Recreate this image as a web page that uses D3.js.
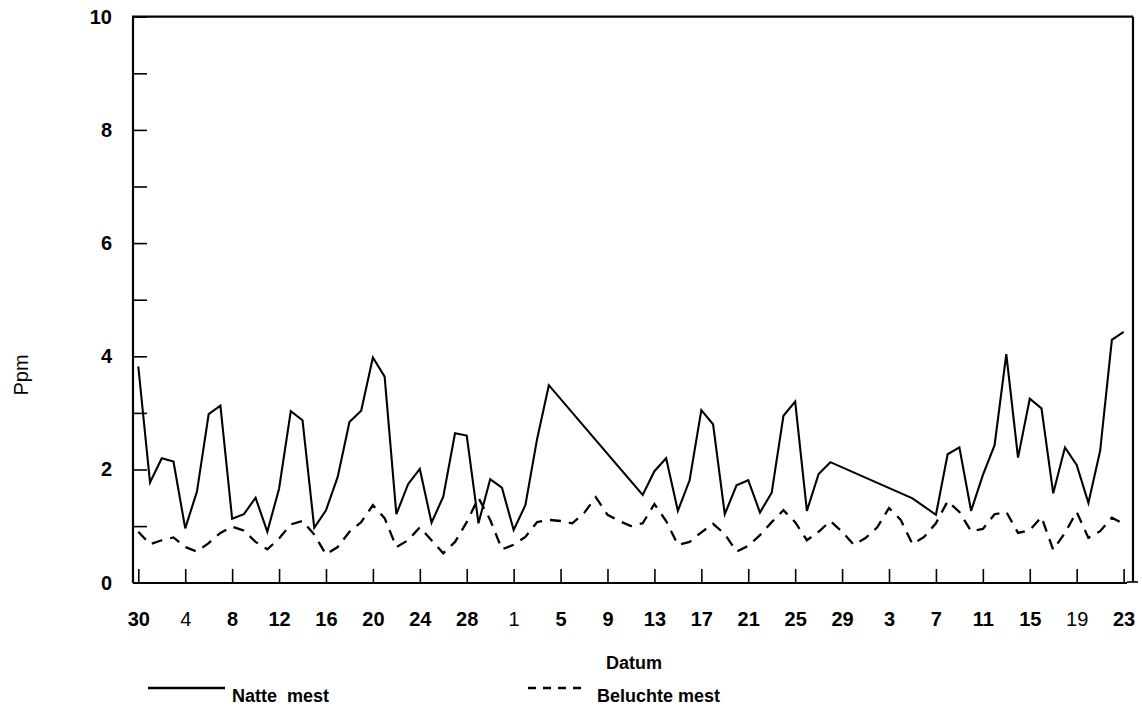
<!DOCTYPE html>
<html>
<head>
<meta charset="utf-8">
<script src="https://cdn.jsdelivr.net/npm/d3@7/dist/d3.min.js"></script>
<style>
  html, body { margin: 0; padding: 0; background: #fff; }
  svg { display: block; font-family: "Liberation Sans", Arial, Helvetica, sans-serif; }
</style>
</head>
<body>
<svg id="chart" width="1142" height="719"></svg>
<script>
// Measurement dates (day-month, 1991 season) and ppm values per manure type
const natteDates = [
  "04-30","05-01","05-02","05-03","05-04","05-05","05-06","05-07","05-08","05-09",
  "05-10","05-11","05-12","05-13","05-14","05-15","05-16","05-17","05-18","05-19",
  "05-20","05-21","05-22","05-23","05-24","05-25","05-26","05-27","05-28","05-29",
  "05-30","05-31","06-01","06-02","06-03","06-04","06-08","06-12","06-13","06-14",
  "06-15","06-16","06-17","06-18","06-19","06-20","06-21","06-22","06-23","06-24",
  "06-25","06-26","06-27","06-28","07-05","07-07","07-08","07-09","07-10","07-11",
  "07-12","07-13","07-14","07-15","07-16","07-17","07-18","07-19","07-20","07-21",
  "07-22","07-23"
];
const natteValues = [
  3.82,1.77,2.20,2.14,0.96,1.61,2.98,3.13,1.13,1.21,
  1.50,0.90,1.66,3.03,2.87,0.97,1.28,1.87,2.84,3.04,
  3.98,3.64,1.21,1.74,2.01,1.06,1.52,2.64,2.60,1.05,
  1.83,1.68,0.93,1.37,2.54,3.49,2.52,1.55,1.97,2.20,
  1.27,1.81,3.05,2.80,1.21,1.72,1.81,1.24,1.59,2.95,
  3.20,1.27,1.92,2.13,1.49,1.20,2.27,2.39,1.27,1.90,
  2.43,4.04,2.21,3.25,3.08,1.58,2.39,2.08,1.41,2.33,
  4.29,4.43
];

const beluchteStart = "04-30";
const beluchteValues = [
  0.90,0.68,0.75,0.80,0.63,0.55,0.70,0.88,0.99,0.92,
  0.72,0.59,0.78,1.03,1.09,0.85,0.50,0.63,0.90,1.07,
  1.37,1.14,0.63,0.75,0.98,0.75,0.52,0.72,1.07,1.50,
  1.11,0.59,0.67,0.81,1.07,1.11,1.09,1.05,1.23,1.51,
  1.20,1.09,1.00,1.05,1.39,1.09,0.67,0.72,0.89,1.04,
  0.86,0.55,0.65,0.84,1.07,1.28,1.07,0.75,0.90,1.09,
  0.90,0.67,0.79,0.98,1.32,1.11,0.68,0.81,1.05,1.44,
  1.25,0.91,0.95,1.21,1.25,0.88,0.93,1.16,0.58,0.88,
  1.25,0.79,0.91,1.15,1.04
];

const yTicks = [0,1,2,3,4,5,6,7,8,9,10];
const yTickLabels = ["0","","2","","4","","6","","8","","10"];
const xTickLabels = ["30","4","8","12","16","20","24","28","1","5","9","13","17","21","25","29","3","7","11","15","19","23"];
const thinLabels = ["4","1","19"];
const seriesNames = ["Natte  mest", "Beluchte mest"];

const year = 1991;
const parseDay = d3.timeParse("%Y-%m-%d");
const toDate = s => parseDay(`${year}-${s}`);

const natte = natteDates.map((d, i) => ({ date: toDate(d), value: natteValues[i] }));
const beluchteFirst = toDate(beluchteStart);
const beluchte = beluchteValues.map((v, i) => ({ date: d3.timeDay.offset(beluchteFirst, i), value: v }));

const svg = d3.select("#chart");

const frame = { left: 133, right: 1133, top: 16.7, bottom: 583 };

const x = d3.scaleTime()
  .domain([toDate("04-30"), toDate("07-23")])
  .range([138.3, 1123.6]);

const y = d3.scaleLinear()
  .domain([0, 10])
  .range([582.7, 16.7]);

// Plot frame
const g = svg.append("g");
g.append("line").attr("x1", frame.left).attr("x2", frame.left)
  .attr("y1", frame.top).attr("y2", frame.bottom)
  .attr("stroke", "#000").attr("stroke-width", 2.2);
g.append("line").attr("x1", frame.left - 1).attr("x2", frame.right)
  .attr("y1", frame.top).attr("y2", frame.top)
  .attr("stroke", "#000").attr("stroke-width", 2.2);
g.append("line").attr("x1", frame.right).attr("x2", frame.right)
  .attr("y1", frame.top).attr("y2", frame.bottom - 1)
  .attr("stroke", "#000").attr("stroke-width", 2.2);
g.append("line").attr("x1", frame.right - 6).attr("x2", frame.right + 5)
  .attr("y1", frame.bottom - 1).attr("y2", frame.bottom - 1)
  .attr("stroke", "#000").attr("stroke-width", 1.6);
g.append("line").attr("x1", frame.left).attr("x2", 1127)
  .attr("y1", frame.bottom).attr("y2", frame.bottom)
  .attr("stroke", "#000").attr("stroke-width", 2.2);

// Y axis: inward ticks every unit, labels on even values
const yAxis = d3.axisLeft(y)
  .tickValues(yTicks)
  .tickSizeInner(-14)
  .tickSizeOuter(0)
  .tickPadding(21)
  .tickFormat((d, i) => yTickLabels[i]);

const yg = svg.append("g")
  .attr("transform", `translate(${frame.left},0)`)
  .call(yAxis);
yg.select(".domain").remove();
yg.selectAll(".tick line").attr("stroke", "#000").attr("stroke-width", 1.6);
yg.selectAll(".tick text")
  .attr("fill", "#000")
  .style("font-size", "20px")
  .style("font-weight", "bold");

// X axis: ticks every 4 days, labelled with the day of the month
const xTickDates = d3.timeDay.range(toDate("04-30"), d3.timeDay.offset(toDate("07-23"), 1), 4);
const xAxis = d3.axisBottom(x)
  .tickValues(xTickDates)
  .tickSizeInner(-14)
  .tickSizeOuter(0)
  .tickPadding(29)
  .tickFormat((d, i) => xTickLabels[i]);

const xg = svg.append("g")
  .attr("transform", `translate(0,${frame.bottom})`)
  .call(xAxis);
xg.select(".domain").remove();
xg.selectAll(".tick line").attr("stroke", "#000").attr("stroke-width", 1.6);
xg.selectAll(".tick text")
  .attr("fill", "#000")
  .style("font-size", "20px")
  .style("font-weight", (d, i) => thinLabels.includes(xTickLabels[i]) ? "normal" : "bold");

// Axis titles
svg.append("text")
  .attr("x", 634).attr("y", 669)
  .attr("text-anchor", "middle")
  .style("font-size", "18px").style("font-weight", "bold")
  .text("Datum");

svg.append("text")
  .attr("transform", "translate(28,375) rotate(-90)")
  .attr("text-anchor", "middle")
  .style("font-size", "20px")
  .text("Ppm");

// Series lines
const line = d3.line()
  .x(d => x(d.date))
  .y(d => y(d.value));

svg.append("path")
  .datum(natte)
  .attr("fill", "none")
  .attr("stroke", "#000")
  .attr("stroke-width", 2.1)
  .attr("stroke-linejoin", "miter")
  .attr("d", line);

svg.append("path")
  .datum(beluchte)
  .attr("fill", "none")
  .attr("stroke", "#000")
  .attr("stroke-width", 2.3)
  .attr("stroke-dasharray", "11,8")
  .attr("d", line);

// Legend
const legend = svg.append("g");
legend.append("line")
  .attr("x1", 148).attr("x2", 225).attr("y1", 688).attr("y2", 688)
  .attr("stroke", "#000").attr("stroke-width", 2.6);
legend.append("text")
  .attr("x", 232).attr("y", 702)
  .attr("xml:space", "preserve")
  .style("white-space", "pre")
  .style("font-size", "18px").style("font-weight", "bold")
  .text(seriesNames[0]);

legend.append("line")
  .attr("x1", 528).attr("x2", 583).attr("y1", 688).attr("y2", 688)
  .attr("stroke", "#000").attr("stroke-width", 2.6)
  .attr("stroke-dasharray", "8,7");
legend.append("text")
  .attr("x", 597).attr("y", 702)
  .style("font-size", "18px").style("font-weight", "bold")
  .text(seriesNames[1]);
</script>
</body>
</html>
